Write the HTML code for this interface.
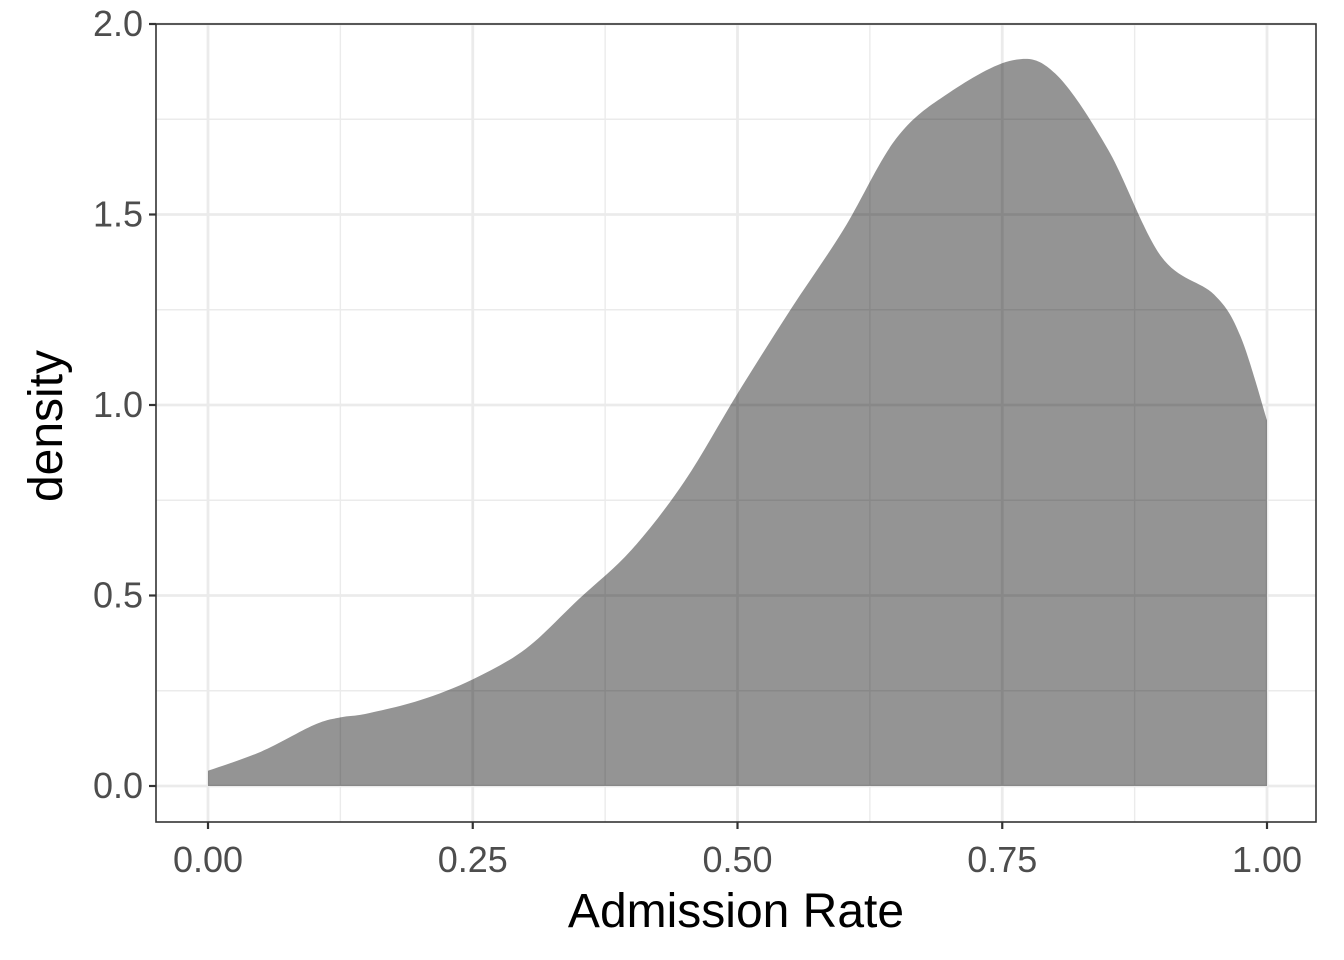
<!DOCTYPE html>
<html><head><meta charset="utf-8"><style>
html,body{margin:0;padding:0;background:#fff;}
svg{display:block;font-family:"Liberation Sans",sans-serif;}
.tick{font-size:36px;fill:#4d4d4d;}
.title{font-size:48px;fill:#000;}
</style></head><body>
<svg id="chart" width="1344" height="960"></svg>
<script>
const xs = [0,0.05,0.1,0.125,0.15,0.2,0.25,0.3,0.35,0.4,0.45,0.5,0.55,0.6,0.65,0.7,0.76,0.8,0.85,0.9,0.95,0.975,1.0];
const ys = [0.04,0.09,0.16,0.18,0.19,0.225,0.28,0.36,0.49,0.62,0.80,1.03,1.25,1.46,1.70,1.82,1.905,1.87,1.67,1.39,1.29,1.18,0.96];
const xTicks = [0,0.25,0.5,0.75,1.0];
const xTickLabels = ["0.00","0.25","0.50","0.75","1.00"];
const yTicks = [0,0.5,1.0,1.5,2.0];
const yTickLabels = ["0.0","0.5","1.0","1.5","2.0"];
const xMinor = [0.125,0.375,0.625,0.875];
const yMinor = [0.25,0.75,1.25,1.75];

const NS="http://www.w3.org/2000/svg";
const svg=document.getElementById('chart');
const L=156,R=1316,T=24,B=822;
const sx=v=>208+v*1059;
const sy=v=>786-v*381;
function mk(tag,attrs,parent){const e=document.createElementNS(NS,tag);for(const k in attrs)e.setAttribute(k,attrs[k]);(parent||svg).appendChild(e);return e;}

const bg=mk('rect',{x:L,y:T,width:R-L,height:B-T,fill:'#fff'});


xMinor.forEach(v=>{const l=mk('line',{x1:sx(v),x2:sx(v),y1:T,y2:B,stroke:'#ebebeb','stroke-width':1.4});});
yMinor.forEach(v=>{const l=mk('line',{x1:L,x2:R,y1:sy(v),y2:sy(v),stroke:'#ebebeb','stroke-width':1.4});});
xTicks.forEach(v=>{const l=mk('line',{x1:sx(v),x2:sx(v),y1:T,y2:B,stroke:'#ebebeb','stroke-width':2.8});});
yTicks.forEach(v=>{const l=mk('line',{x1:L,x2:R,y1:sy(v),y2:sy(v),stroke:'#ebebeb','stroke-width':2.8});});

const pts=xs.map((x,i)=>[sx(x),sy(ys[i])]);
let d=`M${sx(xs[0])},${sy(0)} L${pts[0][0]},${pts[0][1]}`;
for(let i=0;i<pts.length-1;i++){
  const p0=pts[Math.max(0,i-1)],p1=pts[i],p2=pts[i+1],p3=pts[Math.min(pts.length-1,i+2)];
  const c1=[p1[0]+(p2[0]-p0[0])/6,p1[1]+(p2[1]-p0[1])/6];
  const c2=[p2[0]-(p3[0]-p1[0])/6,p2[1]-(p3[1]-p1[1])/6];
  d+=` C${c1[0]},${c1[1]} ${c2[0]},${c2[1]} ${p2[0]},${p2[1]}`;
}
d+=` L${sx(xs[xs.length-1])},${sy(0)} Z`;
const area=mk('path',{d:d,fill:'rgba(0,0,0,0.42)'});



const border=mk('rect',{x:L,y:T,width:R-L,height:B-T,fill:'none',stroke:'#333','stroke-width':1.6});



xTicks.forEach((v,i)=>{
  const t=mk('line',{x1:sx(v),x2:sx(v),y1:B,y2:B+7,stroke:'#333','stroke-width':2.2});
  
  const tx=mk('text',{x:sx(v),y:872,'text-anchor':'middle','class':'tick'});
  tx.textContent=xTickLabels[i];
  
});
yTicks.forEach((v,i)=>{
  const t=mk('line',{x1:L-7,x2:L,y1:sy(v),y2:sy(v),stroke:'#333','stroke-width':2.2});
  
  const tx=mk('text',{x:143,y:sy(v)+12,'text-anchor':'end','class':'tick'});
  tx.textContent=yTickLabels[i];
  
});
const xt=mk('text',{x:736,y:927,'text-anchor':'middle','class':'title'});
xt.textContent='Admission Rate';

const yt=mk('text',{x:0,y:0,'text-anchor':'middle','class':'title',transform:'translate(62,426) rotate(-90)'});
yt.textContent='density';

</script>
</body></html>
